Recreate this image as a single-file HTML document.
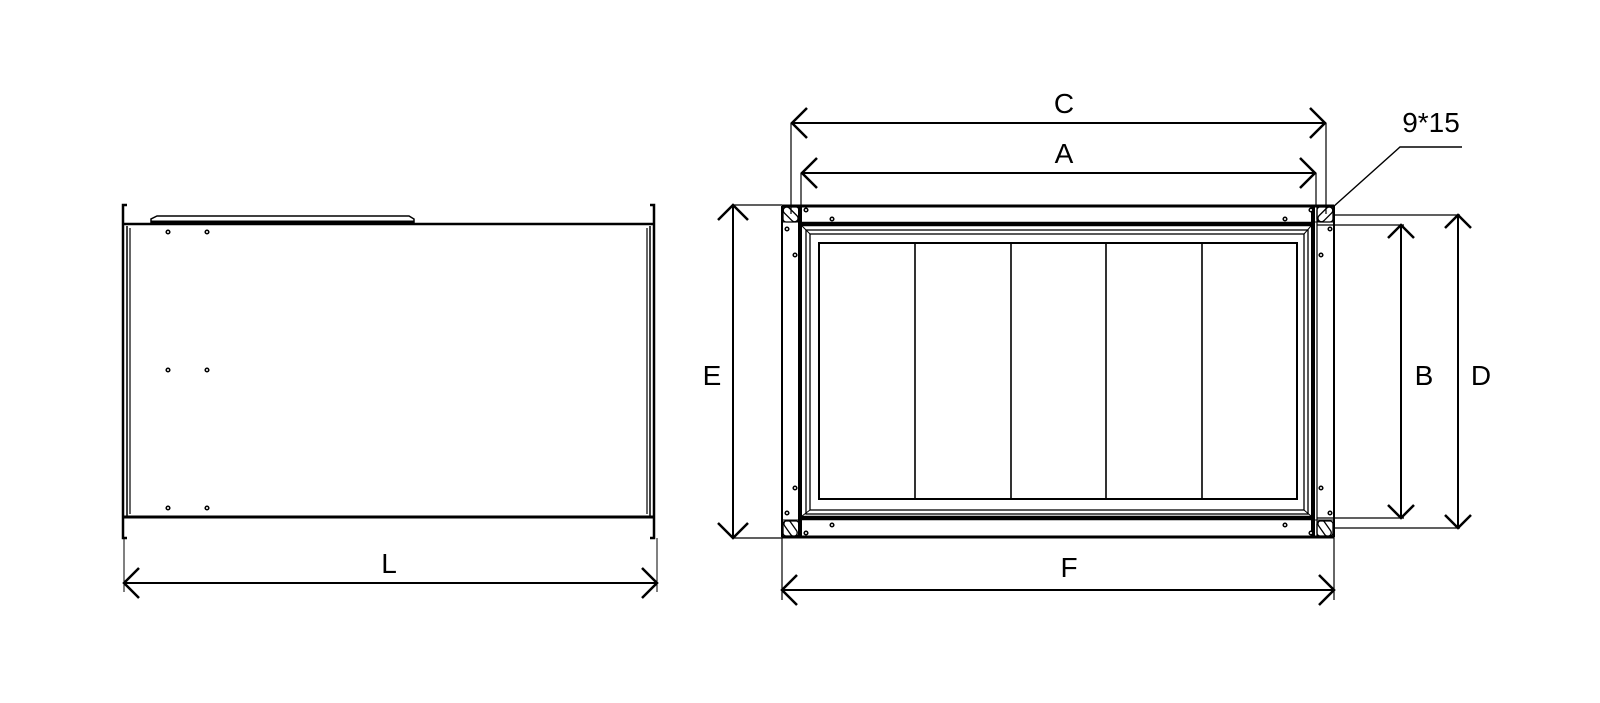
<!DOCTYPE html>
<html><head><meta charset="utf-8"><style>
html,body{margin:0;padding:0;background:#fff;}
svg{display:block;}
text{font-family:"Liberation Sans","DejaVu Sans",sans-serif;font-size:28px;fill:#000;}
</style></head><body>
<svg width="1600" height="703" viewBox="0 0 1600 703" xmlns="http://www.w3.org/2000/svg">
<g fill="none" stroke="#000" stroke-width="2">
<!-- LEFT VIEW -->
<path d="M127 205 H123 V538 H127" stroke-width="2.5"/>
<path d="M650 205 H654 V538 H650" stroke-width="2.5"/>
<line x1="123" y1="224" x2="654" y2="224" stroke-width="2.5"/>
<line x1="151" y1="222" x2="414" y2="222" stroke-width="3"/>
<line x1="123" y1="517" x2="654" y2="517" stroke-width="3"/>
<line x1="127" y1="226" x2="127" y2="516" stroke-width="1.5"/>
<line x1="130" y1="228" x2="130" y2="514" stroke-width="1.2"/>
<line x1="650" y1="226" x2="650" y2="516" stroke-width="1.5"/>
<line x1="647" y1="228" x2="647" y2="514" stroke-width="1.2"/>
<path d="M151 224 L151 219 L157 216 H409 L414 219 V224" stroke-width="1.5"/>
<!-- L dim -->
<line x1="124" y1="538" x2="124" y2="592" stroke-width="1"/>
<line x1="657" y1="538" x2="657" y2="592" stroke-width="1"/>
<line x1="124" y1="583" x2="657" y2="583"/>
<path d="M139 568 L124 583 L139 598 M642 568 L657 583 L642 598" stroke-width="2.5"/>

<!-- FRONT VIEW -->
<line x1="782" y1="206" x2="1334" y2="206" stroke-width="3"/>
<line x1="782" y1="537" x2="1334" y2="537" stroke-width="3"/>
<line x1="782" y1="206" x2="782" y2="537" stroke-width="2"/>
<line x1="1334" y1="206" x2="1334" y2="537" stroke-width="2"/>
<line x1="800" y1="224" x2="1313" y2="224" stroke-width="4.5"/>
<line x1="800" y1="518" x2="1313" y2="518" stroke-width="4.5"/>
<line x1="800" y1="206" x2="800" y2="537" stroke-width="4"/>
<line x1="1313" y1="206" x2="1313" y2="537" stroke-width="4"/>
<line x1="1317" y1="206" x2="1317" y2="537" stroke-width="1.2"/>
<line x1="782" y1="222" x2="800" y2="222" stroke-width="1"/>
<line x1="782" y1="520" x2="800" y2="520" stroke-width="1"/>
<line x1="1313" y1="222" x2="1334" y2="222" stroke-width="1"/>
<line x1="1313" y1="520" x2="1334" y2="520" stroke-width="1"/>
<!-- inner frame -->
<rect x="806" y="230" width="502" height="284" stroke-width="1.3"/>
<rect x="810" y="234" width="494" height="276" stroke-width="1.3"/>
<path d="M802 226 L810 234 M1311 226 L1304 234 M802 516 L810 510 M1311 516 L1304 510" stroke-width="1"/>
<rect x="819" y="243" width="478" height="256" stroke-width="2"/>
<path d="M915 243 V499 M1011 243 V499 M1106 243 V499 M1202 243 V499" stroke-width="1.6"/>
<!-- slots -->
<g stroke-width="1.3">
<rect x="783" y="207" width="16" height="15" rx="3"/>
<rect x="783" y="521" width="16" height="15" rx="3"/>
<rect x="1317" y="207" width="16" height="15" rx="3"/>
<rect x="1317" y="521" width="16" height="15" rx="3"/>
<rect x="782" y="211" width="18" height="7" rx="3.5" transform="rotate(45 791 214)"/>
<rect x="782" y="525" width="18" height="7" rx="3.5" transform="rotate(55 791 528)"/>
<rect x="1316" y="211" width="18" height="7" rx="3.5" transform="rotate(-45 1325 214)"/>
<rect x="1316" y="525" width="18" height="7" rx="3.5" transform="rotate(55 1325 528)"/>
</g>
<!-- C / A dims -->
<line x1="791" y1="123" x2="1326" y2="123"/>
<line x1="791" y1="123" x2="791" y2="214" stroke-width="1.2"/>
<line x1="1326" y1="123" x2="1326" y2="214" stroke-width="1.2"/>
<path d="M807 108 L792 123 L807 138 M1310 108 L1325 123 L1310 138" stroke-width="2.5"/>
<line x1="801" y1="173" x2="1316" y2="173"/>
<line x1="801" y1="173" x2="801" y2="206" stroke-width="1.2"/>
<line x1="1316" y1="173" x2="1316" y2="206" stroke-width="1.2"/>
<path d="M817 158 L802 173 L817 188 M1300 158 L1315 173 L1300 188" stroke-width="2.5"/>
<!-- 9*15 leader -->
<path d="M1462 147 H1400 L1333 207" stroke-width="1.4"/>
<!-- E -->
<line x1="733" y1="205" x2="782" y2="205" stroke-width="1.2"/>
<line x1="733" y1="538" x2="782" y2="538" stroke-width="1.2"/>
<line x1="733" y1="205" x2="733" y2="538"/>
<path d="M718 220 L733 205 L748 220 M718 523 L733 538 L748 523" stroke-width="2.5"/>
<!-- F -->
<line x1="782" y1="537" x2="782" y2="600" stroke-width="1.2"/>
<line x1="1334" y1="537" x2="1334" y2="600" stroke-width="1.2"/>
<line x1="782" y1="590" x2="1334" y2="590"/>
<path d="M797 575 L782 590 L797 605 M1319 575 L1334 590 L1319 605" stroke-width="2.5"/>
<!-- B -->
<line x1="1317" y1="225" x2="1404" y2="225" stroke-width="1.2"/>
<line x1="1317" y1="518" x2="1404" y2="518" stroke-width="1.2"/>
<line x1="1401" y1="225" x2="1401" y2="518"/>
<path d="M1388 238 L1401 225 L1414 238 M1388 505 L1401 518 L1414 505" stroke-width="2.5"/>
<!-- D -->
<line x1="1334" y1="215" x2="1460" y2="215" stroke-width="1.2"/>
<line x1="1334" y1="528" x2="1460" y2="528" stroke-width="1.2"/>
<line x1="1458" y1="215" x2="1458" y2="528"/>
<path d="M1445 228 L1458 215 L1471 228 M1445 515 L1458 528 L1471 515" stroke-width="2.5"/>
</g>
<!-- dots -->
<g fill="#fff" stroke="#000" stroke-width="1.5">
<circle cx="168" cy="232" r="1.8"/><circle cx="207" cy="232" r="1.8"/>
<circle cx="168" cy="370" r="1.8"/><circle cx="207" cy="370" r="1.8"/>
<circle cx="168" cy="508" r="1.8"/><circle cx="207" cy="508" r="1.8"/>
<circle cx="806" cy="210" r="1.8"/><circle cx="832" cy="219" r="1.8"/>
<circle cx="1311" cy="210" r="1.8"/><circle cx="1285" cy="219" r="1.8"/>
<circle cx="787" cy="229" r="1.8"/><circle cx="795" cy="255" r="1.8"/>
<circle cx="1330" cy="229" r="1.8"/><circle cx="1321" cy="255" r="1.8"/>
<circle cx="795" cy="488" r="1.8"/><circle cx="787" cy="513" r="1.8"/>
<circle cx="1321" cy="488" r="1.8"/><circle cx="1330" cy="513" r="1.8"/>
<circle cx="832" cy="525" r="1.8"/><circle cx="806" cy="533" r="1.8"/>
<circle cx="1285" cy="525" r="1.8"/><circle cx="1311" cy="533" r="1.8"/>
</g>
<!-- labels -->
<text x="389" y="573" text-anchor="middle">L</text>
<text x="1064" y="113" text-anchor="middle">C</text>
<text x="1064" y="163" text-anchor="middle">A</text>
<text x="1431" y="132" text-anchor="middle">9*15</text>
<text x="712" y="385" text-anchor="middle">E</text>
<text x="1069" y="577" text-anchor="middle">F</text>
<text x="1424" y="385" text-anchor="middle">B</text>
<text x="1481" y="385" text-anchor="middle">D</text>
</svg>
</body></html>
